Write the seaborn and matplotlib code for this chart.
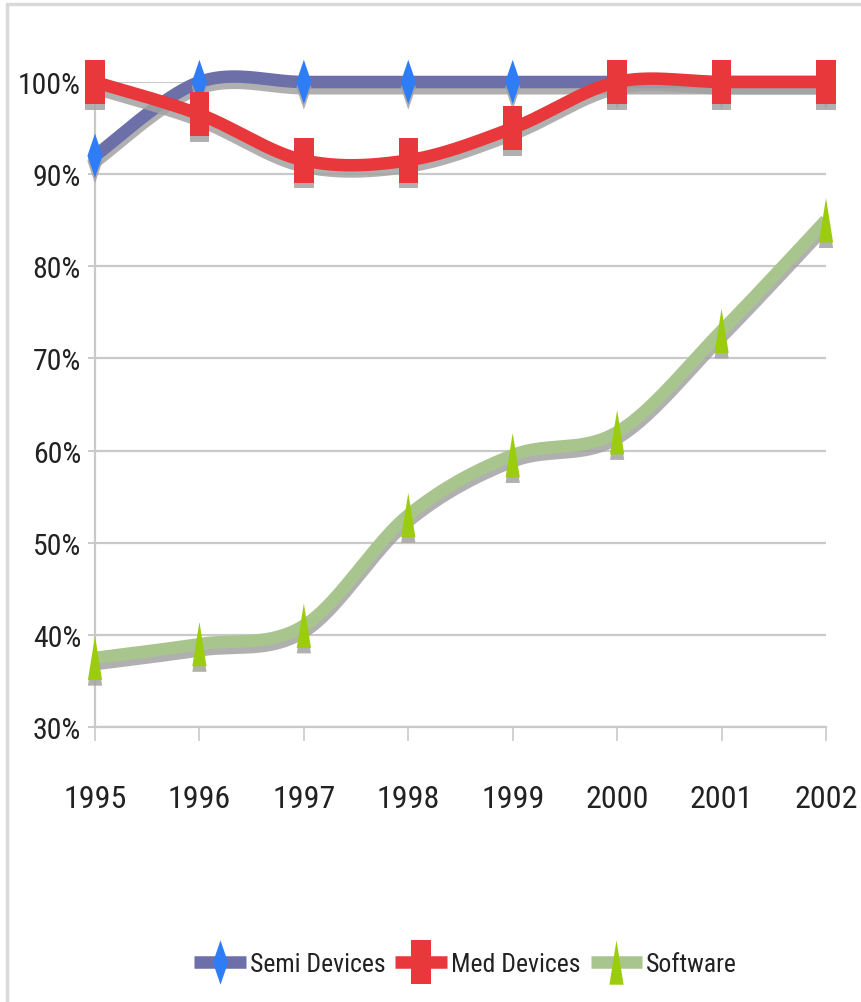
import numpy as np
import pandas as pd
import matplotlib
matplotlib.use("Agg")
import matplotlib.pyplot as plt
import seaborn as sns
from matplotlib import patheffects as pe
from matplotlib.path import Path
from matplotlib.lines import Line2D

# ---- data -------------------------------------------------------------
years = [1995, 1996, 1997, 1998, 1999, 2000, 2001, 2002]
semi_devices = [92, 100, 100, 100, 100, 100, 100, 100]
med_devices = [100, 96.5, 91.5, 91.5, 95, 100, 100, 100]
software = [37.5, 39, 41, 53, 59.5, 62, 73, 85]
series_names = ["Semi Devices", "Med Devices", "Software"]
y_ticks = [30, 40, 50, 60, 70, 80, 90, 100]

# ---- styles -----------------------------------------------------------
line_colors = {"Semi Devices": "#6c6fa8", "Med Devices": "#e8383b", "Software": "#a9c58e"}
marker_colors = {"Semi Devices": "#2f7df6", "Med Devices": "#e8383b", "Software": "#9ccc10"}
marker_paths = {
    "Semi Devices": Path([(0, 1), (0.34, 0), (0, -1), (-0.34, 0), (0, 1)]),
    "Med Devices": Path([(-0.44, -1), (0.44, -1), (0.44, 1), (-0.44, 1), (-0.44, -1)]),
    "Software": Path([(0, 1), (0.32, -1), (-0.32, -1), (0, 1)]),
}


def smooth(xs, ys, n=40):
    """Bezier smoothing through every point (Catmull-Rom style control points)."""
    x = np.asarray(xs, float)
    y = np.asarray(ys, float)
    px = np.concatenate([[x[0]], x, [x[-1]]])
    py = np.concatenate([[y[0]], y, [y[-1]]])
    t = np.linspace(0, 1, n, endpoint=False)
    out_x, out_y = [], []
    for i in range(len(x) - 1):
        p0 = np.array([px[i], py[i]])
        p1 = np.array([px[i + 1], py[i + 1]])
        p2 = np.array([px[i + 2], py[i + 2]])
        p3 = np.array([px[i + 3], py[i + 3]])
        c1 = p1 + (p2 - p0) / 6.0
        c2 = p2 - (p3 - p1) / 6.0
        b = ((1 - t) ** 3)[:, None] * p1 + (3 * (1 - t) ** 2 * t)[:, None] * c1 \
            + (3 * (1 - t) * t ** 2)[:, None] * c2 + (t ** 3)[:, None] * p2
        out_x.extend(b[:, 0])
        out_y.extend(b[:, 1])
    out_x.append(x[-1])
    out_y.append(y[-1])
    return out_x, out_y


values = {"Semi Devices": semi_devices, "Med Devices": med_devices, "Software": software}

sns.set_theme(style="white")
plt.rcParams["font.family"] = ["Roboto Condensed", "Liberation Sans Narrow", "Roboto", "DejaVu Sans"]
plt.rcParams["font.stretch"] = "condensed"
plt.rcParams["text.color"] = "#222222"

fig = plt.figure(figsize=(8.62, 10.03), dpi=100)
ax = fig.add_axes([95 / 862, 275 / 1003, (826 - 95) / 862, (920 - 275) / 1003])

line_fx = [pe.SimpleLineShadow(offset=(0, -4.5), shadow_color="#a3a3a3", alpha=0.85), pe.Normal()]
mark_fx = [pe.SimplePatchShadow(offset=(0, -4), shadow_rgbFace="#a3a3a3", alpha=0.85), pe.Normal()]

for k, name in enumerate(series_names):
    sx, sy = smooth(years, values[name])
    curve = pd.DataFrame({"year": sx, "value": sy})
    n_before = len(ax.lines)
    sns.lineplot(data=curve, x="year", y="value", ax=ax, color=line_colors[name],
                 linewidth=9, sort=False, estimator=None, legend=False, zorder=3 + 2 * k)
    for ln in ax.lines[n_before:]:
        ln.set_path_effects(line_fx)
        ln.set_clip_on(False)
        ln.set_solid_capstyle("butt")
    pts = pd.DataFrame({"year": years, "value": values[name]})
    n_coll = len(ax.collections)
    sns.scatterplot(data=pts, x="year", y="value", ax=ax, marker=marker_paths[name],
                    s=32 ** 2, color=marker_colors[name], linewidth=0, legend=False,
                    zorder=4 + 2 * k)
    for c in ax.collections[n_coll:]:
        c.set_path_effects(mark_fx)
        c.set_clip_on(False)

# ---- axes -------------------------------------------------------------
grid_c = "#c9c9c9"
ax.set_xlim(1995, 2002)
ax.set_ylim(30, 100)
ax.set_xticks(years)
ax.set_xticklabels([str(y) for y in years])
ax.set_yticks(y_ticks)
ax.set_yticklabels([f"{v}%" for v in y_ticks])
ax.set_xlabel("")
ax.set_ylabel("")
ax.yaxis.grid(True, color=grid_c, linewidth=1.6, zorder=0)
ax.xaxis.grid(False)
ax.set_axisbelow(True)
for side in ["top", "right"]:
    ax.spines[side].set_visible(False)
for side in ["left", "bottom"]:
    ax.spines[side].set_color(grid_c)
    ax.spines[side].set_linewidth(1.6)
ax.tick_params(axis="y", left=True, length=5, width=1.4, color=grid_c, pad=5,
               labelsize=21.5, labelcolor="#222222")
ax.tick_params(axis="x", bottom=True, length=10, width=1.2, color=grid_c, pad=31,
               labelsize=23, labelcolor="#222222")

# ---- legend -----------------------------------------------------------
handles = [Line2D([0], [0], color=line_colors[n], lw=9, marker=marker_paths[n],
                  markersize=32, markerfacecolor=marker_colors[n], markeredgewidth=0,
                  solid_capstyle="butt")
           for n in series_names]
fig.legend(handles, series_names, loc="center", bbox_to_anchor=(0.54, 0.038),
           ncol=3, frameon=False, fontsize=18.5, handlelength=2.0, handletextpad=0.15,
           columnspacing=0.4)

# ---- outer frame (left and top edges) --------------------------------
fig.add_artist(Line2D([7 / 862, 7 / 862], [0, 1 - 5 / 1003], color="#d9d9d9", lw=2.5,
                      transform=fig.transFigure))
fig.add_artist(Line2D([7 / 862, 1], [1 - 5 / 1003, 1 - 5 / 1003], color="#d9d9d9", lw=2.5,
                      transform=fig.transFigure))

fig.savefig("out.png", dpi=100, facecolor="white")
